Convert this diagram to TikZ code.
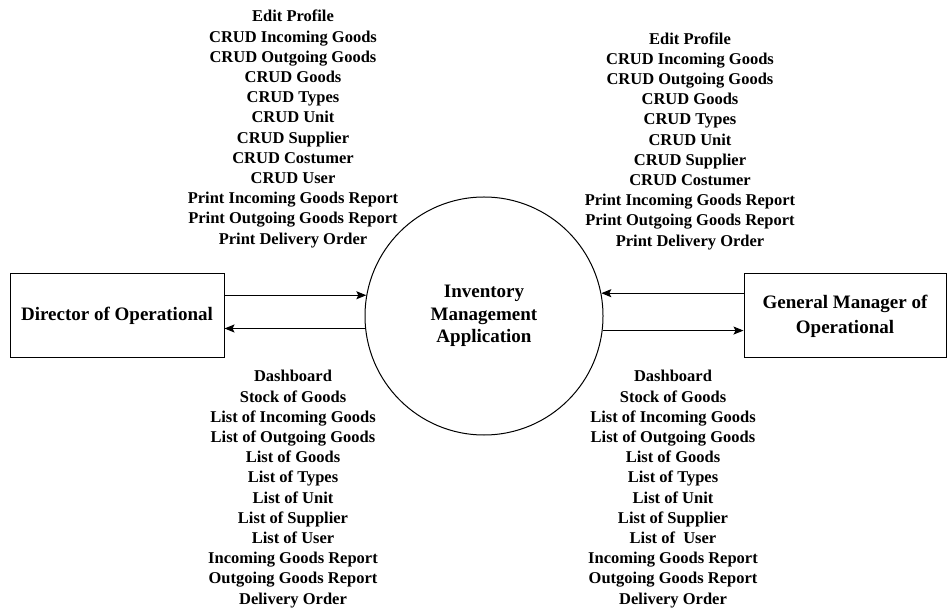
\documentclass[tikz,border=0pt]{standalone}
\usepackage{fontspec}
\setmainfont{Liberation Serif}
\usepackage{tikz}
\usetikzlibrary{arrows.meta}
\tikzstyle{proc}=[circle, draw,% the process bubble
line width=1pt, minimum size=238pt, inner sep=0pt, align=center,
font=\fontsize{19}{22.5}\selectfont\bfseries]
\tikzstyle{ent}=[rectangle, draw, line width=1pt, inner sep=0pt, align=center,
font=\fontsize{19}{25}\selectfont\bfseries]
\tikzstyle{flow}=[align=center, inner sep=0pt,
font=\fontsize{16.5}{20.2}\selectfont\bfseries]
\tikzstyle{dflow}=[-{Stealth[length=10pt,width=8pt,inset=2pt]}, line width=1pt]

\begin{document}
\begin{tikzpicture}[x=1pt,y=1pt]
\useasboundingbox (0,0) rectangle (947,608);
\node[proc] (iam) at (484,292) {Inventory\\Management\\Application};
\node[ent, minimum width=214pt, minimum height=84pt] (dir) at (117,292) {Director of Operational};
\node[ent, minimum width=202pt, minimum height=84pt] (gm) at (845,292) {General Manager of\\Operational};

\node[flow] (dirin) at (293,479) {Edit Profile\\CRUD Incoming Goods\\CRUD Outgoing Goods\\CRUD Goods\\CRUD Types\\CRUD Unit\\CRUD Supplier\\CRUD Costumer\\CRUD User\\Print Incoming Goods Report\\Print Outgoing Goods Report\\Print Delivery Order};
\node[flow] (gmin) at (690,467) {Edit Profile\\CRUD Incoming Goods\\CRUD Outgoing Goods\\CRUD Goods\\CRUD Types\\CRUD Unit\\CRUD Supplier\\CRUD Costumer\\Print Incoming Goods Report\\Print Outgoing Goods Report\\Print Delivery Order};
\node[flow] (dirout) at (293,119) {Dashboard\\Stock of Goods\\List of Incoming Goods\\List of Outgoing Goods\\List of Goods\\List of Types\\List of Unit\\List of Supplier\\List of User\\Incoming Goods Report\\Outgoing Goods Report\\Delivery Order};
\node[flow] (gmout) at (673,119) {Dashboard\\Stock of Goods\\List of Incoming Goods\\List of Outgoing Goods\\List of Goods\\List of Types\\List of Unit\\List of Supplier\\List of\ \ User\\Incoming Goods Report\\Outgoing Goods Report\\Delivery Order};

\draw [dflow] (dir.east |- iam.170) -- (iam.170);
\draw [dflow] (iam.186) -- (dir.east |- iam.186);
\draw [dflow] (gm.west |- iam.11.6) -- (iam.11.6);
\draw [dflow] (iam.353.7) -- (gm.west |- iam.353.7);
\end{tikzpicture}
\end{document}
